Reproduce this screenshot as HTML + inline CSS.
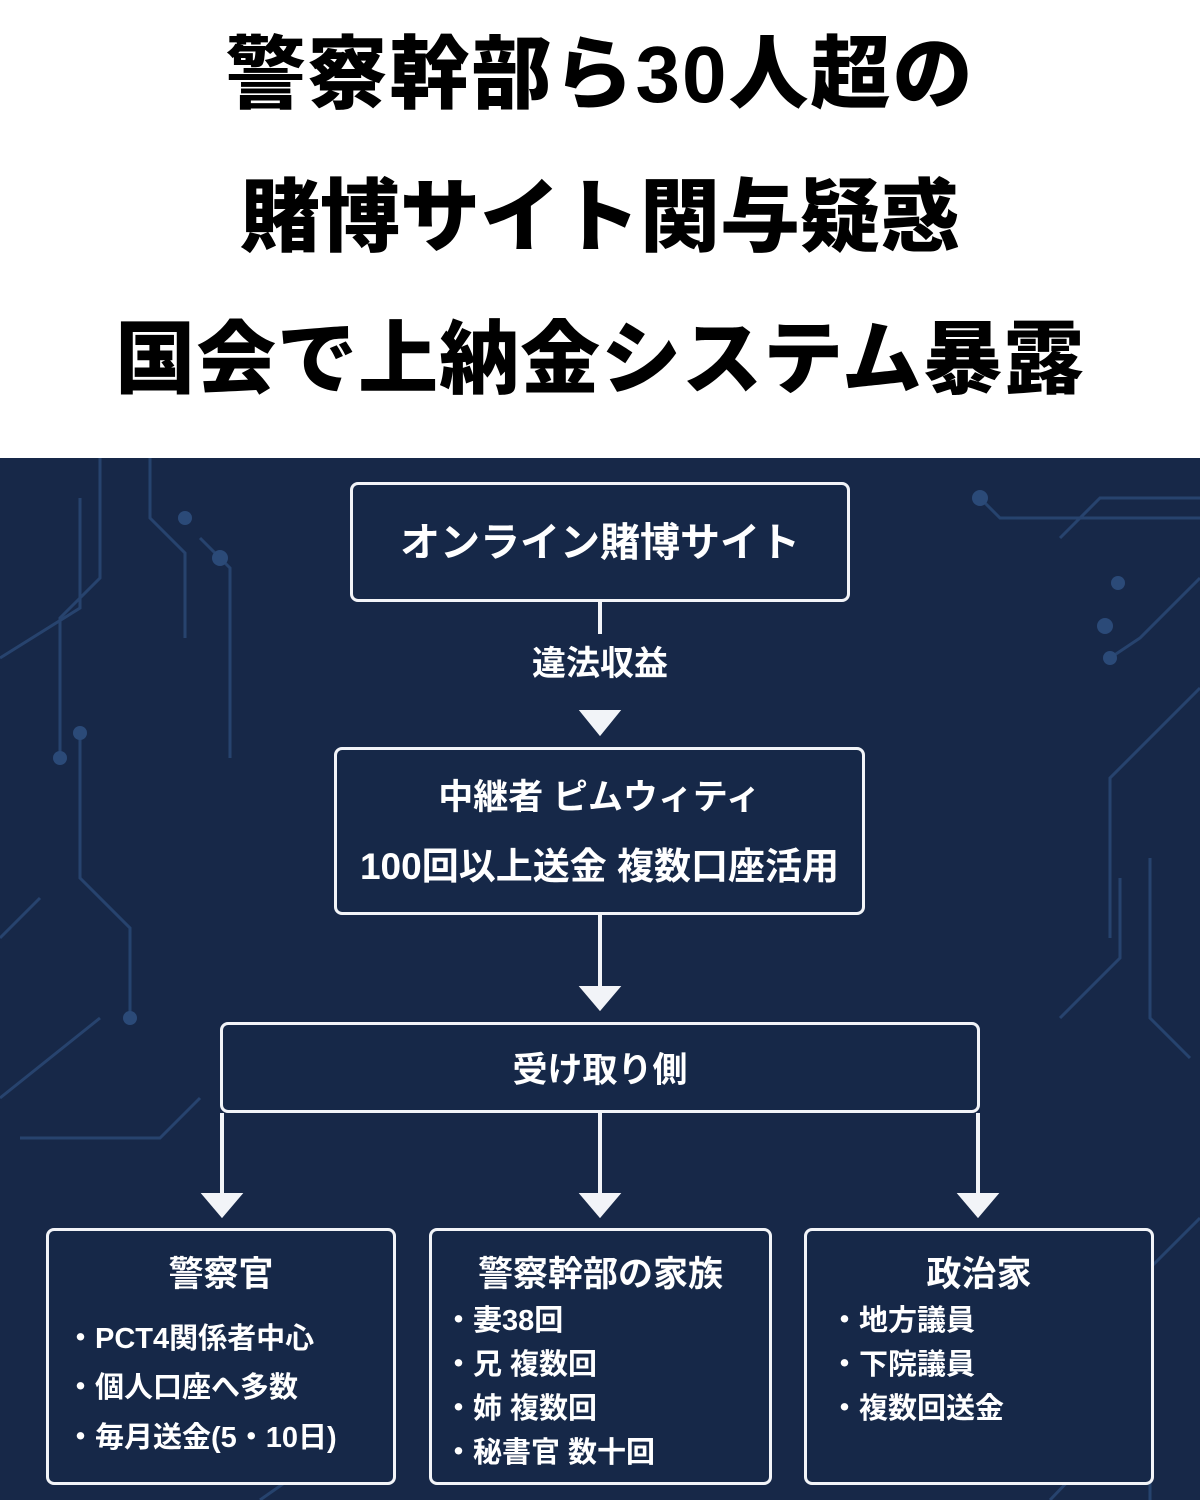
<!DOCTYPE html>
<html><head><meta charset="utf-8"><style>
*{margin:0;padding:0;box-sizing:border-box}
body{width:1200px;height:1500px;position:relative;overflow:hidden;background:#fff;font-family:"Liberation Sans","Noto Sans CJK JP",sans-serif;font-weight:bold}
.t{position:absolute;left:0;width:1200px;text-align:center;font-size:80px;color:#000;line-height:1;font-weight:900}
#dk{position:absolute;left:0;top:458px;width:1200px;height:1042px;background:#172848}
.b{position:absolute;border:3.5px solid #f2f4f8;border-radius:8px;background:#162848;color:#fff}
.c{position:absolute;left:0;width:100%;text-align:center;color:#fff;line-height:1}
.i{position:absolute;color:#fff;font-size:29px;line-height:1;white-space:nowrap}
</style></head><body>
<div class="t" style="top:35px;letter-spacing:2px">警察幹部ら30人超の</div>
<div class="t" style="top:178px">賭博サイト関与疑惑</div>
<div class="t" style="top:320px;letter-spacing:1px">国会で上納金システム暴露</div>
<div id="dk"></div>
<svg style="position:absolute;left:0;top:458px" width="1200" height="1042">
<g stroke="#2b4a78" stroke-width="3" fill="none" opacity="0.8">
<path d="M100 0 V120 L60 160 V300"/><path d="M150 0 V60 L185 95 V180"/><path d="M0 200 L80 150 V40"/>
<path d="M80 280 V420 L130 470 V560"/><path d="M0 480 L40 440"/><path d="M0 640 L100 560"/>
<path d="M20 680 L160 680 L200 640"/><path d="M200 80 L230 110 V300"/>
<path d="M1200 40 L1100 40 L1060 80"/><path d="M980 40 L1000 60 H1200"/><path d="M1200 120 L1140 180 L1110 200"/>
<path d="M1200 230 L1110 320 V480"/><path d="M1150 400 V560 L1190 600"/><path d="M1060 560 L1120 500 V420"/>
<path d="M1200 760 L1150 810 V1042"/><path d="M1050 1042 L1100 990"/><path d="M320 1000 L260 1042"/>
</g>
<g fill="#2b4a78"><circle cx="60" cy="300" r="7"/><circle cx="185" cy="60" r="7"/><circle cx="220" cy="100" r="8"/><circle cx="80" cy="275" r="7"/><circle cx="130" cy="560" r="7"/><circle cx="980" cy="40" r="8"/><circle cx="1110" cy="200" r="7"/><circle cx="1105" cy="168" r="8"/><circle cx="1118" cy="125" r="7"/></g>
<g stroke="#f2f4f8" stroke-width="4" fill="#f2f4f8">
<line x1="600" y1="144" x2="600" y2="176"/><path d="M583 254 L617 254 L600 275Z"/>
<line x1="600" y1="457" x2="600" y2="530"/><path d="M583 530 L617 530 L600 550Z"/>
<line x1="222" y1="655" x2="222" y2="737"/><path d="M205 737 L239 737 L222 757Z"/>
<line x1="600" y1="655" x2="600" y2="737"/><path d="M583 737 L617 737 L600 757Z"/>
<line x1="978" y1="655" x2="978" y2="737"/><path d="M961 737 L995 737 L978 757Z"/>
</g></svg>
<div class="b" style="left:350px;top:482px;width:500px;height:120px"><div class="c" style="top:38px;font-size:40px">オンライン賭博サイト</div></div>
<div class="c" style="top:647px;font-size:34px">違法収益</div>
<div class="b" style="left:334px;top:747px;width:531px;height:168px"><div class="c" style="top:30px;font-size:35px">中継者 ピムウィティ</div><div class="c" style="top:98px;font-size:37px">100回以上送金 複数口座活用</div></div>
<div class="b" style="left:220px;top:1022px;width:760px;height:91px"><div class="c" style="top:28px;font-size:35px">受け取り側</div></div>
<div class="b" style="left:46px;top:1228px;width:350px;height:257px"><div class="c" style="top:26px;font-size:35px">警察官</div></div>
<div class="b" style="left:429px;top:1228px;width:343px;height:257px"><div class="c" style="top:26px;font-size:35px">警察幹部の家族</div></div>
<div class="b" style="left:804px;top:1228px;width:350px;height:257px"><div class="c" style="top:26px;font-size:35px">政治家</div></div>
<div class="i" style="left:66px;top:1325px">・PCT4関係者中心</div>
<div class="i" style="left:66px;top:1374px">・個人口座へ多数</div>
<div class="i" style="left:66px;top:1424px">・毎月送金(5・10日)</div>
<div class="i" style="left:444px;top:1307px">・妻38回</div>
<div class="i" style="left:444px;top:1351px">・兄 複数回</div>
<div class="i" style="left:444px;top:1395px">・姉 複数回</div>
<div class="i" style="left:444px;top:1439px">・秘書官 数十回</div>
<div class="i" style="left:830px;top:1307px">・地方議員</div>
<div class="i" style="left:830px;top:1351px">・下院議員</div>
<div class="i" style="left:830px;top:1395px">・複数回送金</div>
</body></html>
